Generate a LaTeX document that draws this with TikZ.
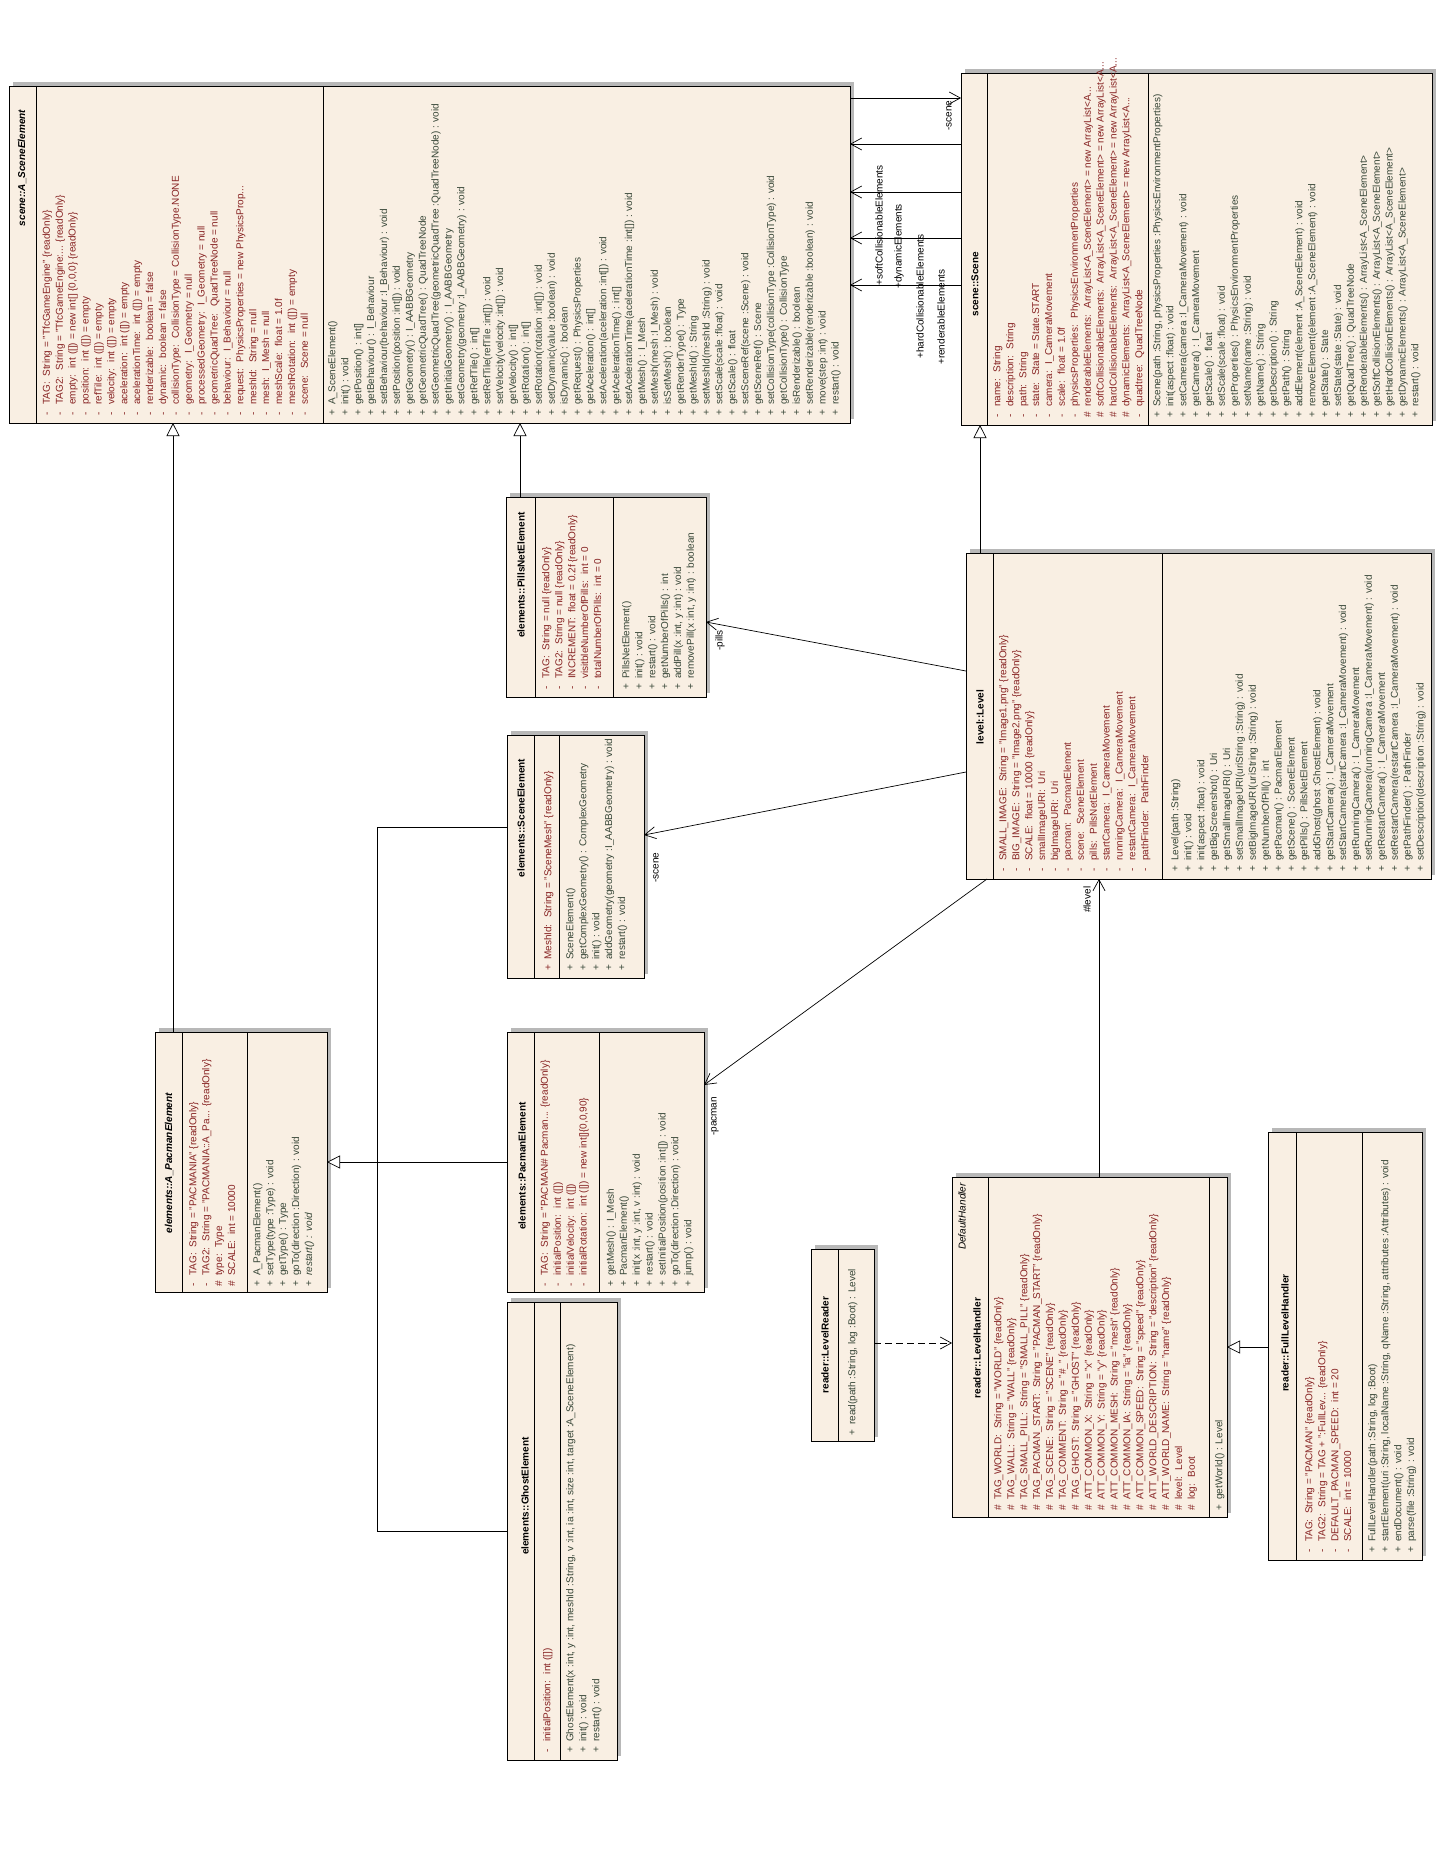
\documentclass[tikz,border=0pt]{standalone}
\usepackage{fontspec}
\setmainfont{Liberation Sans}
\usetikzlibrary{arrows.meta,fit,shadows}
\definecolor{boxfill}{RGB}{249,239,227}
\definecolor{attrc}{RGB}{135,35,35}
\definecolor{methc}{RGB}{55,70,55}
\newcommand{\mk}[1]{\makebox[11pt][l]{#1}}
\begin{document}
\begin{tikzpicture}[x=1pt,y=-1pt,
  cls/.style={draw=black, line width=0.9pt, fill=boxfill, inner sep=0pt, outer sep=0pt,
    drop shadow={shadow xshift=4pt, shadow yshift=4pt, fill=black!28, opacity=1}},
  divider/.style={line width=0.9pt},
  ctitle/.style={rotate=90, inner sep=0pt, font=\fontsize{10}{12}\selectfont\bfseries},
  attrs/.style={rotate=90, anchor=north west, align=left, inner sep=0pt, text=attrc,
    font=\fontsize{10}{12.9}\selectfont},
  meths/.style={attrs, text=methc},
  role/.style={rotate=90, anchor=west, inner sep=1pt, font=\fontsize{10}{12}\selectfont},
  assoc/.style={line width=0.7pt, -{Straight Barb[length=11pt,width=12pt]}},
  gen/.style={line width=0.7pt, -{Triangle[open, length=13pt, width=13pt, fill=white]}},
  dep/.style={line width=0.7pt, dash pattern=on 7pt off 4pt, -{Straight Barb[length=11pt,width=12pt]}},
]
\fill[white] (0,0) rectangle (1456,1864);
\useasboundingbox (0,0) rectangle (1456,1864);

% ---------------- class boxes ----------------
\node[cls, fit={(9,86) (850,423)}] (ase) {};
\node[cls, fit={(961,73) (1432,425)}] (scene) {};
\node[cls, fit={(506,497) (706,697)}] (pills) {};
\node[cls, fit={(966,553) (1431,879)}] (level) {};
\node[cls, fit={(507,735) (644,978)}] (scel) {};
\node[cls, fit={(155,1032) (327,1292)}] (apac) {};
\node[cls, fit={(507,1032) (704,1292)}] (pac) {};
\node[cls, fit={(507,1302) (617,1760)}] (ghost) {};
\node[cls, fit={(811,1249) (874,1441)}] (lr) {};
\node[cls, fit={(952,1177) (1227,1517)}] (lh) {};
\node[cls, fit={(1268,1132) (1422,1560)}] (flh) {};

% ---------------- compartment dividers ----------------
\foreach \n/\x in {ase/36, ase/323, scene/987, scene/1148, pills/535, pills/613,
  level/993, level/1162, scel/534, scel/559, apac/182, apac/247, pac/534, pac/599,
  ghost/534, ghost/560, lr/838, lh/988, lh/1209, flh/1296, flh/1362}
  \draw[divider] (\n.north -| \x,0) -- (\n.south -| \x,0);

% ---------------- scene::A_SceneElement ----------------
\node[ctitle] (aseT) at (22,168) {\itshape scene::A\_SceneElement};
\node[attrs] (aseA) at (42.5,416) {%
\mk{-}TAG:~ String = "TfcGameEngine" \{readOnly\}\\
\mk{-}TAG2:~ String = "TfcGameEngine:... \{readOnly\}\\
\mk{-}empty:~ int ([]) = new int[] \{0,0,0\} \{readOnly\}\\
\mk{-}position:~ int ([]) = empty\\
\mk{-}refTile:~ int ([]) = empty\\
\mk{-}velocity:~ int ([]) = empty\\
\mk{-}aceleration:~ int ([]) = empty\\
\mk{-}acelerationTime:~ int ([]) = empty\\
\mk{-}renderizable:~ boolean = false\\
\mk{-}dynamic:~ boolean = false\\
\mk{-}collisionType:~ CollisionType = CollisionType.NONE\\
\mk{-}geometry:~ I\_Geometry = null\\
\mk{-}processedGeometry:~ I\_Geometry = null\\
\mk{-}geometricQuadTree:~ QuadTreeNode = null\\
\mk{-}behaviour:~ I\_Behaviour = null\\
\mk{-}request:~ PhysicsProperties = new PhysicsProp...\\
\mk{-}meshId:~ String = null\\
\mk{-}mesh:~ I\_Mesh = null\\
\mk{-}meshScale:~ float = 1.0f\\
\mk{-}meshRotation:~ int ([]) = empty\\
\mk{-}scene:~ Scene = null};
\node[meths] (aseM) at (328,416) {%
\mk{+}A\_SceneElement()\\
\mk{+}init() : void\\
\mk{+}getPosition() : int[]\\
\mk{+}getBehaviour() : I\_Behaviour\\
\mk{+}setBehaviour(behaviour :I\_Behaviour) : void\\
\mk{+}setPosition(position :int[]) : void\\
\mk{+}getGeometry() : I\_AABBGeometry\\
\mk{+}getGeometricQuadTree() : QuadTreeNode\\
\mk{+}setGeometricQuadTree(geometricQuadTree :QuadTreeNode) : void\\
\mk{+}getInitialGeometry() : I\_AABBGeometry\\
\mk{+}setGeometry(geometry :I\_AABBGeometry) : void\\
\mk{+}getRefTile() : int[]\\
\mk{+}setRefTile(refTile :int[]) : void\\
\mk{+}setVelocity(velocity :int[]) : void\\
\mk{+}getVelocity() : int[]\\
\mk{+}getRotation() : int[]\\
\mk{+}setRotation(rotation :int[]) : void\\
\mk{+}setDynamic(value :boolean) : void\\
\mk{+}isDynamic() : boolean\\
\mk{+}getRequest() : PhysicsProperties\\
\mk{+}getAceleration() : int[]\\
\mk{+}setAceleration(aceleration :int[]) : void\\
\mk{+}getAcelerationTime() : int[]\\
\mk{+}setAcelerationTime(acelerationTime :int[]) : void\\
\mk{+}getMesh() : I\_Mesh\\
\mk{+}setMesh(mesh :I\_Mesh) : void\\
\mk{+}isSetMesh() : boolean\\
\mk{+}getRenderType() : Type\\
\mk{+}getMeshId() : String\\
\mk{+}setMeshId(meshId :String) : void\\
\mk{+}setScale(scale :float) : void\\
\mk{+}getScale() : float\\
\mk{+}setSceneRef(scene :Scene) : void\\
\mk{+}getSceneRef() : Scene\\
\mk{+}setCollisionType(collisionType :CollisionType) : void\\
\mk{+}getCollisionType() : CollisionType\\
\mk{+}isRenderizable() : boolean\\
\mk{+}setRenderizable(renderizable :boolean) : void\\
\mk{+}move(step :int) : void\\
\mk{+}restart() : void};

% ---------------- scene::Scene ----------------
\node[ctitle] (sceneT) at (975,284) {scene::Scene};
\node[attrs] (sceneA) at (993,418) {%
\mk{-}name:~ String\\
\mk{-}description:~ String\\
\mk{-}path:~ String\\
\mk{-}state:~ State = State.START\\
\mk{-}camera:~ I\_CameraMovement\\
\mk{-}scale:~ float = 1.0f\\
\mk{-}physicsProperties:~ PhysicsEnvironmentProperties\\
\mk{\#}renderableElements:~ ArrayList<A\_SceneElement> = new ArrayList<A...\\
\mk{\#}softCollisionableElements:~ ArrayList<A\_SceneElement> = new ArrayList<A...\\
\mk{\#}hardCollisionableElements:~ ArrayList<A\_SceneElement> = new ArrayList<A...\\
\mk{\#}dynamicElements:~ ArrayList<A\_SceneElement> = new ArrayList<A...\\
\mk{-}quadtree:~ QuadTreeNode};
\node[meths] (sceneM) at (1153,418) {%
\mk{+}Scene(path :String, physicsProperties :PhysicsEnvironmentProperties)\\
\mk{+}init(aspect :float) : void\\
\mk{+}setCamera(camera :I\_CameraMovement) : void\\
\mk{+}getCamera() : I\_CameraMovement\\
\mk{+}getScale() : float\\
\mk{+}setScale(scale :float) : void\\
\mk{+}getProperties() : PhysicsEnvironmentProperties\\
\mk{+}setName(name :String) : void\\
\mk{+}getName() : String\\
\mk{+}getDescription() : String\\
\mk{+}getPath() : String\\
\mk{+}addElement(element :A\_SceneElement) : void\\
\mk{+}removeElement(element :A\_SceneElement) : void\\
\mk{+}getState() : State\\
\mk{+}setState(state :State) : void\\
\mk{+}getQuadTree() : QuadTreeNode\\
\mk{+}getRenderableElements() : ArrayList<A\_SceneElement>\\
\mk{+}getSoftCollisionElements() : ArrayList<A\_SceneElement>\\
\mk{+}getHardCollisionElements() : ArrayList<A\_SceneElement>\\
\mk{+}getDynamicElements() : ArrayList<A\_SceneElement>\\
\mk{+}restart() : void};

% ---------------- elements::PillsNetElement ----------------
\node[ctitle] (pillsT) at (521,575) {elements::PillsNetElement};
\node[attrs] (pillsA) at (542,690) {%
\mk{-}TAG:~ String = null \{readOnly\}\\
\mk{-}TAG2:~ String = null \{readOnly\}\\
\mk{-}INCREMENT:~ float = 0.2f \{readOnly\}\\
\mk{-}visitbleNumberOfPills:~ int = 0\\
\mk{-}totalNumberOfPills:~ int = 0};
\node[meths] (pillsM) at (622,690) {%
\mk{+}PillsNetElement()\\
\mk{+}init() : void\\
\mk{+}restart() : void\\
\mk{+}getNumberOfPills() : int\\
\mk{+}addPill(x :int, y :int) : void\\
\mk{+}removePill(x :int, y :int) : boolean};

% ---------------- level::Level ----------------
\node[ctitle] (levelT) at (980,717) {level::Level};
\node[attrs] (levelA) at (999,872) {%
\mk{-}SMALL\_IMAGE:~ String = "Image1.png" \{readOnly\}\\
\mk{-}BIG\_IMAGE:~ String = "Image2.png" \{readOnly\}\\
\mk{-}SCALE:~ float = 10000 \{readOnly\}\\
\mk{-}smallImageURI:~ Uri\\
\mk{-}bigImageURI:~ Uri\\
\mk{-}pacman:~ PacmanElement\\
\mk{-}scene:~ SceneElement\\
\mk{-}pills:~ PillsNetElement\\
\mk{-}startCamera:~ I\_CameraMovement\\
\mk{-}runningCamera:~ I\_CameraMovement\\
\mk{-}restartCamera:~ I\_CameraMovement\\
\mk{-}pathFinder:~ PathFinder};
\node[meths] (levelM) at (1171,872) {%
\mk{+}Level(path :String)\\
\mk{+}init() : void\\
\mk{+}init(aspect :float) : void\\
\mk{+}getBigScreenshot() : Uri\\
\mk{+}getSmallImageURI() : Uri\\
\mk{+}setSmallImageURI(uriString :String) : void\\
\mk{+}setBigImageURI(uriString :String) : void\\
\mk{+}getNumberOfPill() : int\\
\mk{+}getPacman() : PacmanElement\\
\mk{+}getScene() : SceneElement\\
\mk{+}getPills() : PillsNetElement\\
\mk{+}addGhost(ghost :GhostElement) : void\\
\mk{+}getStartCamera() : I\_CameraMovement\\
\mk{+}setStartCamera(startCamera :I\_CameraMovement) : void\\
\mk{+}getRunningCamera() : I\_CameraMovement\\
\mk{+}setRunningCamera(runningCamera :I\_CameraMovement) : void\\
\mk{+}getRestartCamera() : I\_CameraMovement\\
\mk{+}setRestartCamera(restartCamera :I\_CameraMovement) : void\\
\mk{+}getPathFinder() : PathFinder\\
\mk{+}setDescription(description :String) : void};

% ---------------- elements::SceneElement ----------------
\node[ctitle] (scelT) at (521,818) {elements::SceneElement};
\node[attrs] (scelA) at (544,971) {%
\mk{+}MeshId:~ String = "SceneMesh" \{readOnly\}};
\node[meths] (scelM) at (566,971) {%
\mk{+}SceneElement()\\
\mk{+}getComplexGeometry() : ComplexGeometry\\
\mk{+}init() : void\\
\mk{+}addGeometry(geometry :I\_AABBGeometry) : void\\
\mk{+}restart() : void};

% ---------------- elements::A_PacmanElement ----------------
\node[ctitle] (apacT) at (169,1163) {\itshape elements::A\_PacmanElement};
\node[attrs] (apacA) at (189,1287) {%
\mk{-}TAG:~ String = "PACMANIA" \{readOnly\}\\
\mk{-}TAG2:~ String = "PACMANIA::A\_Pa... \{readOnly\}\\
\mk{\#}type:~ Type\\
\mk{\#}SCALE:~ int = 10000};
\node[meths] (apacM) at (253,1287) {%
\mk{+}A\_PacmanElement()\\
\mk{+}setType(type :Type) : void\\
\mk{+}getType() : Type\\
\mk{+}goTo(direction :Direction) : void\\
\mk{+}\textit{restart() : void}};

% ---------------- elements::PacmanElement ----------------
\node[ctitle] (pacT) at (522,1166) {elements::PacmanElement};
\node[attrs] (pacA) at (540.5,1287) {%
\mk{-}TAG:~ String = "PACMAN\# Pacman... \{readOnly\}\\
\mk{-}initialPosition:~ int ([])\\
\mk{-}initialVelocity:~ int ([])\\
\mk{-}initialRotation:~ int ([]) = new int[]\{0,0,90\}};
\node[meths] (pacM) at (606.5,1287) {%
\mk{+}getMesh() : I\_Mesh\\
\mk{+}PacmanElement()\\
\mk{+}init(x :int, y :int, v :int) : void\\
\mk{+}restart() : void\\
\mk{+}setInitialPosition(position :int[]) : void\\
\mk{+}goTo(direction :Direction) : void\\
\mk{+}jump() : void};

% ---------------- elements::GhostElement ----------------
\node[ctitle] (ghostT) at (525,1496) {elements::GhostElement};
\node[attrs] (ghostA) at (543,1753) {%
\mk{-}initialPosition:~ int ([])};
\node[meths] (ghostM) at (566,1753) {%
\mk{+}GhostElement(x :int, y :int, meshId :String, v :int, ia :int, size :int, target :A\_SceneElement)\\
\mk{+}init() : void\\
\mk{+}restart() : void};

% ---------------- reader::LevelReader ----------------
\node[ctitle] (lrT) at (825,1345) {reader::LevelReader};
\node[meths] (lrM) at (848,1436) {%
\mk{+}read(path :String, log :Boot) : Level};

% ---------------- reader::LevelHandler ----------------
\node[rotate=90, anchor=east, inner sep=0pt, font=\fontsize{10}{12}\selectfont\itshape] (lhS) at (962,1183) {DefaultHandler};
\node[ctitle] (lhT) at (977,1348) {reader::LevelHandler};
\node[attrs] (lhA) at (994,1511) {%
\mk{\#}TAG\_WORLD:~ String = "WORLD" \{readOnly\}\\
\mk{\#}TAG\_WALL:~ String = "WALL" \{readOnly\}\\
\mk{\#}TAG\_SMALL\_PILL:~ String = "SMALL\_PILL" \{readOnly\}\\
\mk{\#}TAG\_PACMAN\_START:~ String = "PACMAN\_START" \{readOnly\}\\
\mk{\#}TAG\_SCENE:~ String = "SCENE" \{readOnly\}\\
\mk{\#}TAG\_COMMENT:~ String = "\#\_" \{readOnly\}\\
\mk{\#}TAG\_GHOST:~ String = "GHOST" \{readOnly\}\\
\mk{\#}ATT\_COMMON\_X:~ String = "x" \{readOnly\}\\
\mk{\#}ATT\_COMMON\_Y:~ String = "y" \{readOnly\}\\
\mk{\#}ATT\_COMMON\_MESH:~ String = "mesh" \{readOnly\}\\
\mk{\#}ATT\_COMMON\_IA:~ String = "ia" \{readOnly\}\\
\mk{\#}ATT\_COMMON\_SPEED:~ String = "speed" \{readOnly\}\\
\mk{\#}ATT\_WORLD\_DESCRIPTION:~ String = "description" \{readOnly\}\\
\mk{\#}ATT\_WORLD\_NAME:~ String = "name" \{readOnly\}\\
\mk{\#}level:~ Level\\
\mk{\#}log:~ Boot};
\node[meths] (lhM) at (1215,1511) {%
\mk{+}getWorld() : Level};

% ---------------- reader::FullLevelHandler ----------------
\node[ctitle] (flhT) at (1285,1333) {reader::FullLevelHandler};
\node[attrs] (flhA) at (1305,1553) {%
\mk{-}TAG:~ String = "PACMAN" \{readOnly\}\\
\mk{-}TAG2:~ String = TAG + ":FullLev... \{readOnly\}\\
\mk{-}DEFAULT\_PACMAN\_SPEED:~ int = 20\\
\mk{-}SCALE:~ int = 10000};
\node[meths] (flhM) at (1368,1553) {%
\mk{+}FullLevelHandler(path :String, log :Boot)\\
\mk{+}startElement(uri :String, localName :String, qName :String, attributes :Attributes) : void\\
\mk{+}endDocument() : void\\
\mk{+}parse(file :String) : void};

% ---------------- connectors ----------------
\draw[assoc] (ase.east |- 0,98) -- (scene.west |- 0,98);
\node[role] (rScene) at (949,132) {-scene};
\foreach \yy in {144,192,238,285}
  \draw[assoc] (scene.west |- 0,\yy) -- (ase.east |- 0,\yy);
\node[role] (rSoft) at (879,287) {+softCollisionableElements};
\node[role] (rDyn) at (899,290) {+dynamicElements};
\node[role] (rHard) at (920,360) {+hardCollisionableElements};
\node[role] (rRend) at (941,366) {+renderableElements};

\draw[gen] (level.north -| 980,0) -- (scene.south -| 980,0);
\draw[gen] (pills.north -| 520,0) -- (ase.south -| 520,0);
\draw[gen] (apac.north -| 173,0) -- (ase.south -| 173,0);
\draw[gen] (pac.west |- 0,1162) -- (apac.east |- 0,1162);
\draw[line width=0.7pt] (scel.west |- 0,827) -- (377,827) |- (ghost.west |- 0,1531);

\draw[assoc] (level.west |- 0,671) -- (pills.east |- 0,622);
\node[role] (rPills) at (720,652) {-pills};
\draw[assoc] (level.west |- 0,772) -- (scel.east |- 0,835);
\node[role] (rScel) at (656,884) {-scene};
\draw[assoc] (level.south -| 987,0) -- (pac.east |- 0,1085);
\node[role] (rPac) at (715,1137) {-pacman};
\draw[assoc] (lh.north -| 1099,0) -- (level.south -| 1099,0);
\node[role] (rLevel) at (1087,914) {\#level};

\draw[gen] (flh.west |- 0,1347) -- (lh.east |- 0,1347);
\draw[dep] (lr.east |- 0,1343) -- (lh.west |- 0,1343);
\end{tikzpicture}
\end{document}
